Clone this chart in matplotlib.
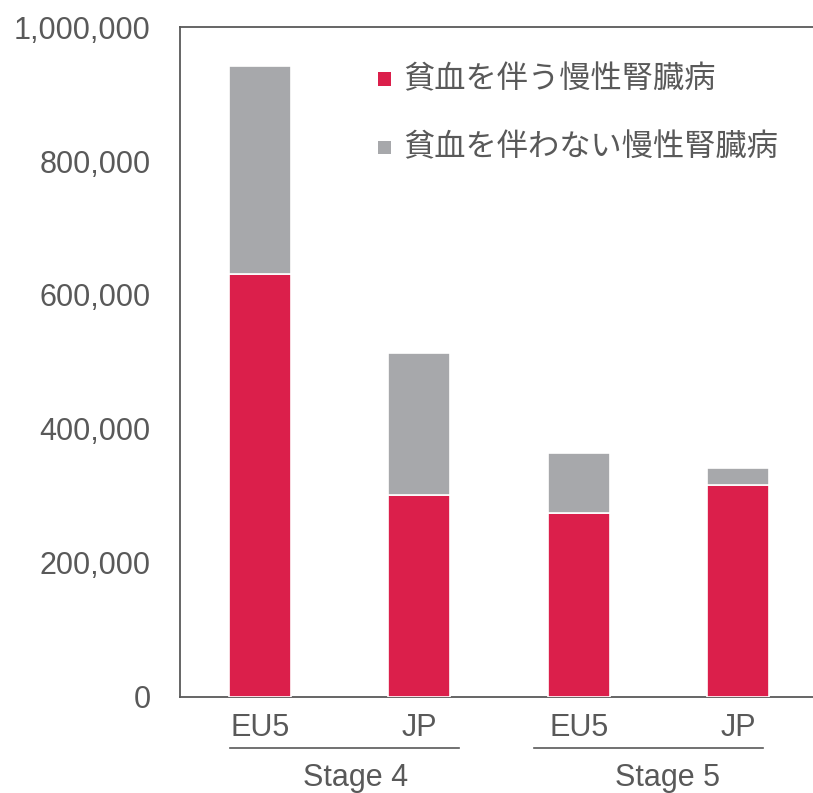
import matplotlib.pyplot as plt
from matplotlib.patches import Rectangle
from matplotlib.transforms import blended_transform_factory

# data
regions = ['EU5', 'JP', 'EU5', 'JP']
stages = ['Stage 4', 'Stage 5']
with_anemia = [632000, 301000, 274000, 316000]
without_anemia = [310000, 212000, 90000, 25000]
series_names = ['貧血を伴う慢性腎臓病', '貧血を伴わない慢性腎臓病']
colors = ['#DB1F4B', '#A7A8AB']
yticks = [0, 200000, 400000, 600000, 800000, 1000000]

text_color = '#595959'
plt.rcParams['font.family'] = ['Liberation Sans', 'Noto Sans CJK JP', 'DejaVu Sans']

fig = plt.figure(figsize=(8.13, 7.93), dpi=100)
ax = fig.add_axes([180 / 813, 96.5 / 793, 638 / 813, 669.2 / 793])

x = list(range(len(regions)))
ax.bar(x, with_anemia, width=0.39, color=colors[0], edgecolor='white',
       linewidth=1.2, zorder=3)
ax.bar(x, without_anemia, width=0.39, bottom=with_anemia, color=colors[1],
       edgecolor='white', linewidth=1.2, zorder=3)

ax.set_xlim(-0.5, 3.5)
ax.set_ylim(0, 1000000)
ax.set_yticks(yticks)
ax.set_yticklabels([f'{v:,}' for v in yticks])
ax.set_xticks(x)
ax.set_xticklabels(regions)
ax.tick_params(axis='y', length=0, pad=21, labelsize=22, labelcolor=text_color)
ax.tick_params(axis='x', length=0, pad=12, labelsize=22, labelcolor=text_color)

for side in ['left', 'top', 'bottom']:
    ax.spines[side].set_color(text_color)
    ax.spines[side].set_linewidth(1.3)
ax.spines['right'].set_visible(False)

# stage group lines and labels under the region labels
trans = blended_transform_factory(ax.transData, fig.transFigure)
group_spans = [(-0.185, 1.25), (1.72, 3.157)]
group_centers = [0.6, 2.555]
for (x0, x1), xc, name in zip(group_spans, group_centers, stages):
    ax.plot([x0, x1], [45 / 793, 45 / 793], color=text_color, lw=1.2,
            transform=trans, clip_on=False)
    ax.text(xc, 15 / 793, name, transform=trans, ha='center', va='center',
            fontsize=22, color=text_color)

# legend drawn by hand
for i, (name, c) in enumerate(zip(series_names, colors)):
    yc = 79 + i * 68.5
    fig.patches.append(Rectangle((378 / 813, (793 - yc - 6.5) / 793), 13 / 813,
                                 13 / 793, transform=fig.transFigure,
                                 facecolor=c, edgecolor='none'))
    fig.text(403 / 813, (793 - yc) / 793, name, ha='left', va='center',
             fontsize=22.5, color=text_color,
             family=['Noto Sans CJK JP', 'DejaVu Sans'])

fig.savefig('out.png', dpi=100)
